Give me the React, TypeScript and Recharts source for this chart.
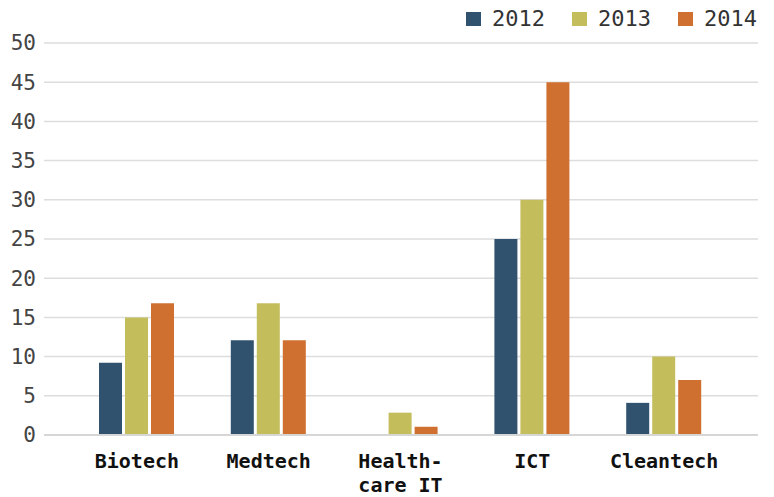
import React from 'react';
import { BarChart, Bar, XAxis, YAxis, CartesianGrid } from 'recharts';

const categories = ['Biotech', 'Medtech', 'Health-\ncare IT', 'ICT', 'Cleantech'];
const values2012 = [9.2, 12.1, 0, 25, 4.1];
const values2013 = [15, 16.8, 2.85, 30, 10];
const values2014 = [16.8, 12.1, 1.05, 45, 7];
const yTicks = [0, 5, 10, 15, 20, 25, 30, 35, 40, 45, 50];

const series = [
  { key: 'y2012', name: '2012', color: '#30526f', values: values2012 },
  { key: 'y2013', name: '2013', color: '#c4bd5c', values: values2013 },
  { key: 'y2014', name: '2014', color: '#cf7030', values: values2014 },
];

const data = categories.map((c, i) => {
  const row: Record<string, string | number> = { category: c };
  series.forEach(s => { row[s.key] = s.values[i]; });
  return row;
});

const FONT = '"DejaVu Sans Mono", "Liberation Mono", monospace';

function CategoryTick({ x, y, payload }: any) {
  const lines = String(payload.value).split('\n');
  return (
    <text x={x} y={y} textAnchor="middle" fontFamily={FONT} fontWeight="bold" fontSize={20} fill="#111">
      {lines.map((l, i) => (
        <tspan key={i} x={x} dy={i === 0 ? 25 : 24}>{l}</tspan>
      ))}
    </text>
  );
}

// legend drawn on top of the chart so it takes no room from the plot
function ChartLegend() {
  return (
    <div style={{ position: 'absolute', top: 6, right: 17, display: 'flex', fontFamily: FONT, fontSize: 22, color: '#333', lineHeight: '26px' }}>
      {series.map((s, i) => (
        <div key={s.key} style={{ display: 'flex', alignItems: 'center', marginLeft: i === 0 ? 0 : 27 }}>
          <span style={{ display: 'inline-block', width: 15, height: 14, background: s.color, marginRight: 11 }} />
          <span>{s.name}</span>
        </div>
      ))}
    </div>
  );
}

export default function App() {
  return (
    <div style={{ position: 'absolute', left: 0, top: 0, width: 774, height: 497, background: '#fff' }}>
      <BarChart
        width={774}
        height={497}
        data={data}
        margin={{ top: 43, right: 16, bottom: 0, left: 0 }}
        barSize={23}
        barGap={3}
      >
        <CartesianGrid vertical={false} stroke="#dddddd" strokeWidth={1.5} />
        <XAxis
          dataKey="category"
          height={62}
          axisLine={{ stroke: '#d6d6d6', strokeWidth: 2 }}
          tickLine={false}
          padding={{ left: 27, right: 28 }}
          tick={<CategoryTick />}
          interval={0}
        />
        <YAxis
          width={44}
          domain={[0, 50]}
          ticks={yTicks}
          axisLine={false}
          tickLine={false}
          tick={{ fontFamily: FONT, fontSize: 21, fill: '#444' }}
        />
        {series.map(s => (
          <Bar key={s.key} dataKey={s.key} name={s.name} fill={s.color} isAnimationActive={false} />
        ))}
      </BarChart>
      <ChartLegend />
    </div>
  );
}
